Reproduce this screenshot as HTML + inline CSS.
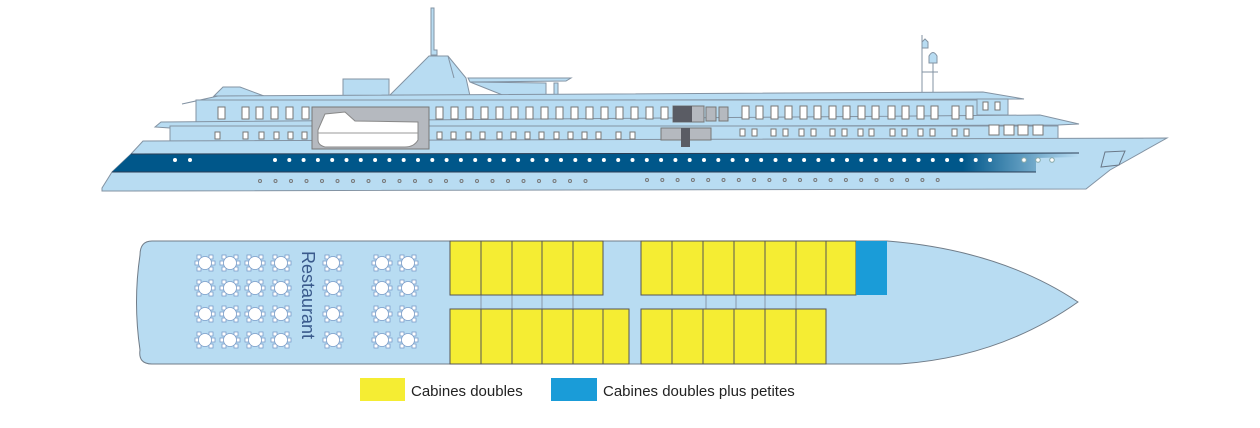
<!DOCTYPE html>
<html><head><meta charset="utf-8"><style>
html,body{margin:0;padding:0;background:#fff;width:1260px;height:428px;overflow:hidden}
svg{display:block}
text{font-family:"Liberation Sans",sans-serif}
</style></head><body>
<svg id="s" width="1260" height="428" viewBox="0 0 1260 428" xmlns="http://www.w3.org/2000/svg">
<defs>
<linearGradient id="band" x1="0" x2="1" y1="0" y2="0">
<stop offset="0" stop-color="#00578a"/><stop offset="0.88" stop-color="#00578a"/><stop offset="1" stop-color="#b8dcf2"/>
</linearGradient>
</defs>
<g stroke="#8393a3" stroke-width="1" fill="#b8dcf2">
<!-- mast -->
<polygon points="431,8 434,8 434,50 437,50 437,55 431,55"/>
<!-- funnel box -->
<rect x="343" y="79" width="46" height="17"/>
<!-- funnel cone -->
<polygon points="389,96 429,56 448,56 466,78 470,96"/>
<line x1="448" y1="56" x2="454" y2="78"/>
<!-- canopy -->
<polygon points="468,78 571,78 566,81 470,82"/>
<polygon points="470,82 546,83 546,96 505,96"/>
<rect x="554" y="83" width="4" height="13"/>
<!-- hood -->
<polygon points="214,96 223,87 240,87 264,96"/>
<!-- front mast -->
<line x1="922" y1="35" x2="922" y2="92"/>
<line x1="933" y1="63" x2="933" y2="92"/>
<line x1="922" y1="72" x2="938" y2="72"/>
<path d="M922,42 L925,39 L928,42 L928,48 L922,48Z"/>
<path d="M929,63 L929,56 Q933,49 937,56 L937,63Z"/>
<!-- roof slab -->
<polygon points="182,104 218,96 983,92 1024,99 196,101"/>
<!-- upper deck -->
<rect x="196" y="100" width="812" height="22"/>
<rect x="977" y="99" width="31" height="16"/>
<!-- ledge -->
<polygon points="155,127 161,122 1040,115 1079,124 1058,125 170,128"/>
<!-- lower deck -->
<rect x="170" y="126" width="888" height="15"/>
<!-- hull -->
<polygon points="102,188 112,172 131,154 143,141 1167,138 1110,170 1086,189 102,191"/>
</g>
<polygon points="112,172 131,154 1079,153 1079,157 1036,158 1036,172" fill="url(#band)"/>
<line x1="131" y1="154" x2="1079" y2="153" stroke="#2b3e55" stroke-width="1"/>
<line x1="112" y1="172" x2="1036" y2="172" stroke="#2b3e55" stroke-width="1"/>
<polygon points="1101,167 1105,152 1125,151 1119,165" fill="none" stroke="#6a7888"/>
<!-- lifeboat box -->
<rect x="312" y="107" width="117" height="42" fill="#b5b9bf" stroke="#777"/>
<path d="M318,130 L325,114 L345,112 L355,121 L418,122 L418,140 Q414,147 405,147 L325,147 Q318,145 318,140Z" fill="#fff" stroke="#888"/>
<line x1="318" y1="133" x2="418" y2="133" stroke="#999"/>
<!-- dark gray boxes -->
<rect x="673" y="106" width="31" height="16" fill="#b5b9bf" stroke="#777"/>
<rect x="673" y="106" width="19" height="16" fill="#5a5c64"/>
<rect x="706" y="107" width="10" height="14" fill="#b5b9bf" stroke="#777"/>
<rect x="719" y="107" width="9" height="14" fill="#b5b9bf" stroke="#777"/>
<rect x="661" y="128" width="50" height="12" fill="#b5b9bf" stroke="#777"/>
<rect x="681" y="128" width="9" height="19" fill="#5a5c64"/>
<g id="win" fill="#fff" stroke="#777" stroke-width="1"></g>
<g id="port"></g>

<!-- deck plan -->
<path d="M152,241 L887,241 Q1000,250 1078,302 Q1000,357 900,364 L152,364 Q138,364 140,350 Q133,302 140,255 Q140,241 152,241Z" fill="#b8dcf2" stroke="#707c88" stroke-width="1"/>
<g id="tables"></g>
<text transform="translate(302,251) rotate(90)" font-size="18" fill="#3a5a8c">Restaurant</text>
<g id="cab" stroke="#555" stroke-width="1"></g>
<rect x="360" y="378" width="45" height="23" fill="#f5ed33"/>
<text x="411" y="396" font-size="15" fill="#222">Cabines doubles</text>
<rect x="551" y="378" width="46" height="23" fill="#1a9cd8"/>
<text x="603" y="396" font-size="15" fill="#222">Cabines doubles plus petites</text>
</svg>
<script>
const NS="http://www.w3.org/2000/svg";
function el(p,t,a){const e=document.createElementNS(NS,t);for(const k in a)e.setAttribute(k,a[k]);p.appendChild(e);return e;}
const w=document.getElementById('win');
[218,242,256,271,286,302].forEach(x=>el(w,'rect',{x:x,y:107,width:7,height:12}));
for(let x=436;x<=670;x+=15)el(w,'rect',{x:x,y:107,width:7,height:12});
[742,756,771,785,800,814,829,843,858,872,888,902,917,931,952,966].forEach(x=>el(w,'rect',{x:x,y:106,width:7,height:13}));
[983,995].forEach(x=>el(w,'rect',{x:x,y:102,width:5,height:8}));
[215,243,259,274,288,302].forEach(x=>el(w,'rect',{x:x,y:132,width:5,height:7}));
[437,451,466,480,497,511,525,539,554,568,582,596,616,630].forEach(x=>el(w,'rect',{x:x,y:132,width:5,height:7}));
[740,752,771,783,799,811,830,842,858,869,890,902,918,930,952,964].forEach(x=>el(w,'rect',{x:x,y:129,width:5,height:7}));
[989,1004,1018,1033].forEach(x=>el(w,'rect',{x:x,y:125,width:10,height:10}));
const p=document.getElementById('port');
[175,190].forEach(x=>el(p,'circle',{cx:x,cy:160,r:2,fill:"#fff"}));
for(let x=275;x<=1000;x+=14.3)el(p,'circle',{cx:x,cy:160,r:2,fill:"#fff"});
[1024,1038,1052].forEach(x=>el(p,'circle',{cx:x,cy:160,r:2.3,fill:"#fff",stroke:"#8aa"}));
for(let x=260;x<=590;x+=15.5)el(p,'circle',{cx:x,cy:181,r:1.5,fill:"none",stroke:"#777"});
for(let x=647;x<=940;x+=15.3)el(p,'circle',{cx:x,cy:180,r:1.5,fill:"none",stroke:"#777"});
const t=document.getElementById('tables');
[205,230,255,281,333,382,408].forEach(x=>[263,288,314,340].forEach(y=>{
 [[-6,-6],[6,-6],[-6,6],[6,6],[-8,0],[8,0]].forEach(d=>el(t,'rect',{x:x+d[0]-2,y:y+d[1]-2,width:4,height:4,fill:"#fff",stroke:"#7a9cc8","stroke-width":0.8}));
 el(t,'circle',{cx:x,cy:y,r:6.5,fill:"#fff",stroke:"#7a9cc8","stroke-width":0.8});
}));
const c=document.getElementById('cab');
[481,512,542,573,706,736,765,796].forEach(x=>el(c,'line',{x1:x,y1:295,x2:x,y2:309,stroke:"#8899aa"}));
function row(xs,y,h,col){for(let i=0;i<xs.length-1;i++)el(c,'rect',{x:xs[i],y:y,width:xs[i+1]-xs[i],height:h,fill:col||"#f5ed33"});}
row([450,481,512,542,573,603],241,54);
row([641,672,703,734,765,796,826,856],241,54);
el(c,'rect',{x:856,y:241,width:31,height:54,fill:"#1a9cd8",stroke:"none"});
row([450,481,512,542,573,603,629],309,55);
row([641,672,703,734,765,796,826],309,55);
</script>
</body></html>
